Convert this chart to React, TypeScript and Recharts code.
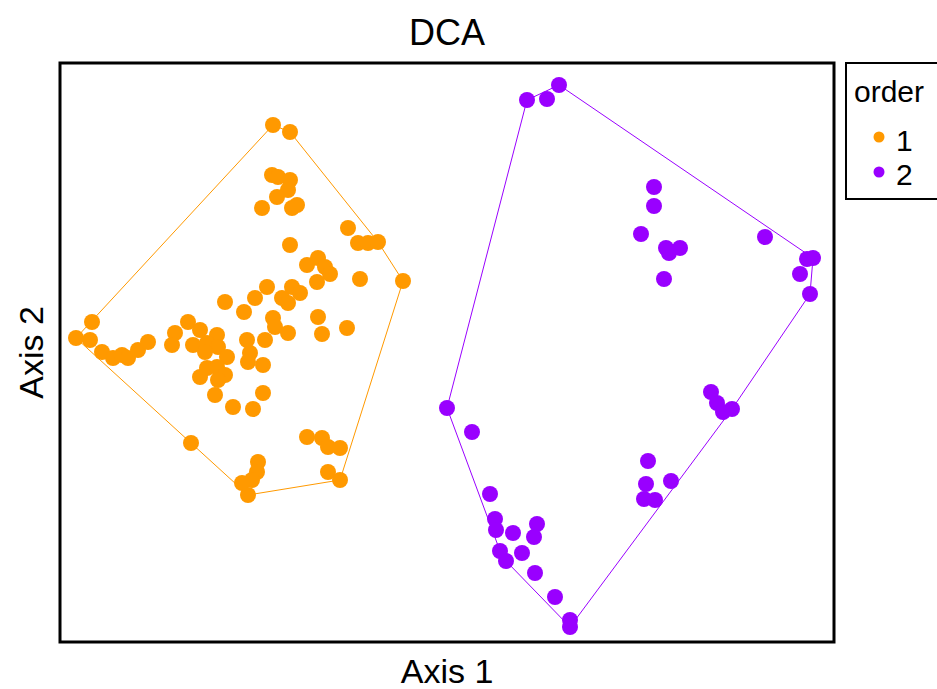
import React from 'react';
import {
  ScatterChart,
  Scatter,
  XAxis,
  YAxis,
  ReferenceArea,
  Legend,
} from 'recharts';

// DCA site scores
const order1: [number, number][] = [
  [-1.74, 2.27], [-1.57, 2.2], [-1.75, 1.77], [-1.69, 1.75], [-1.57, 1.72],
  [-1.59, 1.62], [-1.7, 1.55], [-1.85, 1.44], [-1.55, 1.44], [-1.5, 1.47],
  [-1.57, 1.07], [-0.99, 1.24], [-0.89, 1.09], [-0.79, 1.09], [-0.69, 1.1],
  [-0.44, 0.71], [-1.4, 0.87], [-1.29, 0.94], [-1.22, 0.85], [-1.17, 0.78],
  [-1.3, 0.7], [-0.87, 0.73], [-1.8, 0.65], [-1.55, 0.65], [-2.22, 0.5],
  [-1.92, 0.54], [-2.03, 0.4], [-1.65, 0.54], [-1.47, 0.59], [-1.59, 0.49],
  [-1.29, 0.35], [-1.25, 0.18], [-1.0, 0.24], [-1.74, 0.34], [-1.72, 0.25],
  [-1.59, 0.19], [-1.82, 0.12], [-2.0, 0.12], [-1.97, -0.01], [-1.99, -0.1],
  [-1.84, -0.13], [-2.59, 0.3], [-2.72, 0.19], [-2.75, 0.07], [-2.47, 0.22],
  [-2.3, 0.17], [-2.54, 0.07], [-2.4, 0.09], [-2.29, 0.05], [-2.42, 0.0],
  [-2.2, -0.05], [-2.47, -0.25], [-2.4, -0.16], [-2.3, -0.15], [-2.22, -0.23],
  [-2.29, -0.28], [-2.32, -0.43], [-1.84, -0.41], [-2.14, -0.55], [-1.94, -0.57],
  [-3.55, 0.3], [-3.71, 0.14], [-3.57, 0.12], [-3.45, 0.0], [-3.34, -0.06],
  [-3.25, -0.03], [-3.19, -0.06], [-3.09, 0.02], [-2.99, 0.1], [-2.56, -0.91],
  [-1.89, -1.1], [-1.9, -1.2], [-1.95, -1.28], [-2.05, -1.31], [-1.99, -1.43],
  [-1.4, -0.85], [-1.25, -0.86], [-1.19, -0.95], [-1.07, -0.96], [-1.19, -1.2],
  [-1.07, -1.28],
];

const order2: [number, number][] = [
  [0.8, 2.52], [1.0, 2.53], [1.12, 2.67], [2.07, 1.65], [2.07, 1.46],
  [1.94, 1.18], [2.19, 1.04], [2.33, 1.04], [2.22, 0.99], [2.17, 0.73],
  [3.18, 1.15], [3.6, 0.93], [3.66, 0.94], [3.53, 0.78], [3.63, 0.58],
  [2.64, -0.4], [2.7, -0.51], [2.76, -0.6], [2.85, -0.57], [2.01, -1.09],
  [1.99, -1.32], [1.97, -1.47], [2.08, -1.48], [2.24, -1.29], [0.0, -0.56],
  [0.25, -0.8], [0.43, -1.42], [0.48, -1.67], [0.49, -1.78], [0.66, -1.81],
  [0.9, -1.72], [0.87, -1.85], [0.53, -1.99], [0.59, -2.09], [0.75, -2.01],
  [0.88, -2.21], [1.08, -2.45], [1.23, -2.68], [1.23, -2.75],
];

const groups = ['1', '2'];
const axis1Domain: [number, number] = [-3.87, 3.87];
const axis2Domain: [number, number] = [-2.9, 2.89];

const colors: Record<string, string> = { '1': '#FF9900', '2': '#9900FF' };
const font = '"Liberation Sans", Arial, sans-serif';

type Pt = { x: number; y: number };

const toPts = (arr: [number, number][]): Pt[] => arr.map(([x, y]) => ({ x, y }));

// convex hull (monotone chain), closed
function hull(points: Pt[]): Pt[] {
  const p = [...points].sort((a, b) => a.x - b.x || a.y - b.y);
  const cross = (o: Pt, a: Pt, b: Pt) => (a.x - o.x) * (b.y - o.y) - (a.y - o.y) * (b.x - o.x);
  const lower: Pt[] = [];
  for (const q of p) {
    while (lower.length >= 2 && cross(lower[lower.length - 2], lower[lower.length - 1], q) <= 0) lower.pop();
    lower.push(q);
  }
  const upper: Pt[] = [];
  for (const q of [...p].reverse()) {
    while (upper.length >= 2 && cross(upper[upper.length - 2], upper[upper.length - 1], q) <= 0) upper.pop();
    upper.push(q);
  }
  lower.pop();
  upper.pop();
  const h = lower.concat(upper);
  return [...h, h[0]];
}

const series = [
  { name: groups[0], points: toPts(order1) },
  { name: groups[1], points: toPts(order2) },
];

const LegendBox = () => (
  <svg width={100} height={140} style={{ display: 'block' }}>
    <rect x={1} y={1} width={100} height={136} fill="#fff" stroke="#000" strokeWidth={2} />
    <text x={9} y={40} fontSize={30} fontFamily={font} fill="#000">order</text>
    {groups.map((g, i) => (
      <g key={g}>
        <circle cx={34} cy={75 + i * 35} r={5.5} fill={colors[g]} />
        <text x={51} y={89 + i * 34} fontSize={30} fontFamily={font} fill="#000">{g}</text>
      </g>
    ))}
  </svg>
);

const Dot = (color: string) => (props: any) =>
  props.cx == null ? <g /> : <circle cx={props.cx} cy={props.cy} r={8} fill={color} />;

const NoDot = () => <g />;

export default function App() {
  return (
    <div style={{ position: 'absolute', left: 0, top: 0, width: 937, height: 689, overflow: 'hidden', background: '#fff' }}>
      <div
        style={{
          position: 'absolute', left: 0, top: 15, width: 894, textAlign: 'center',
          fontFamily: font, fontSize: 36, lineHeight: '36px', color: '#000',
        }}
      >
        DCA
      </div>
      <ScatterChart width={937} height={689} margin={{ top: 63, right: 103, bottom: 0, left: 0 }}>
        <XAxis
          type="number"
          dataKey="x"
          domain={axis1Domain}
          allowDataOverflow
          height={47}
          tick={false}
          tickLine={false}
          axisLine={false}
          label={{ value: 'Axis 1', position: 'insideBottom', offset: 6, fontSize: 34, fontFamily: font, fill: '#000' }}
        />
        <YAxis
          type="number"
          dataKey="y"
          domain={axis2Domain}
          allowDataOverflow
          width={60}
          tick={false}
          tickLine={false}
          axisLine={false}
          label={{
            value: 'Axis 2', position: 'insideLeft', angle: -90, offset: 31,
            fontSize: 34, fontFamily: font, fill: '#000', style: { textAnchor: 'middle' },
          }}
        />
        {series.map((s) => (
          <Scatter
            key={'hull' + s.name}
            data={hull(s.points)}
            line={{ stroke: colors[s.name], strokeWidth: 1 }}
            shape={NoDot}
            isAnimationActive={false}
            legendType="none"
          />
        ))}
        {series.map((s) => (
          <Scatter
            key={s.name}
            name={s.name}
            data={s.points}
            shape={Dot(colors[s.name])}
            isAnimationActive={false}
          />
        ))}
        <ReferenceArea
          x1={axis1Domain[0]}
          x2={axis1Domain[1]}
          y1={axis2Domain[0]}
          y2={axis2Domain[1]}
          fill="none"
          fillOpacity={0}
          stroke="#000"
          strokeWidth={3}
          ifOverflow="visible"
        />
        <Legend
          layout="horizontal"
          verticalAlign="middle"
          align="center"
          wrapperStyle={{ position: 'absolute', left: 845, top: 62, width: 100, height: 140 }}
          content={() => <LegendBox />}
        />
      </ScatterChart>
    </div>
  );
}
